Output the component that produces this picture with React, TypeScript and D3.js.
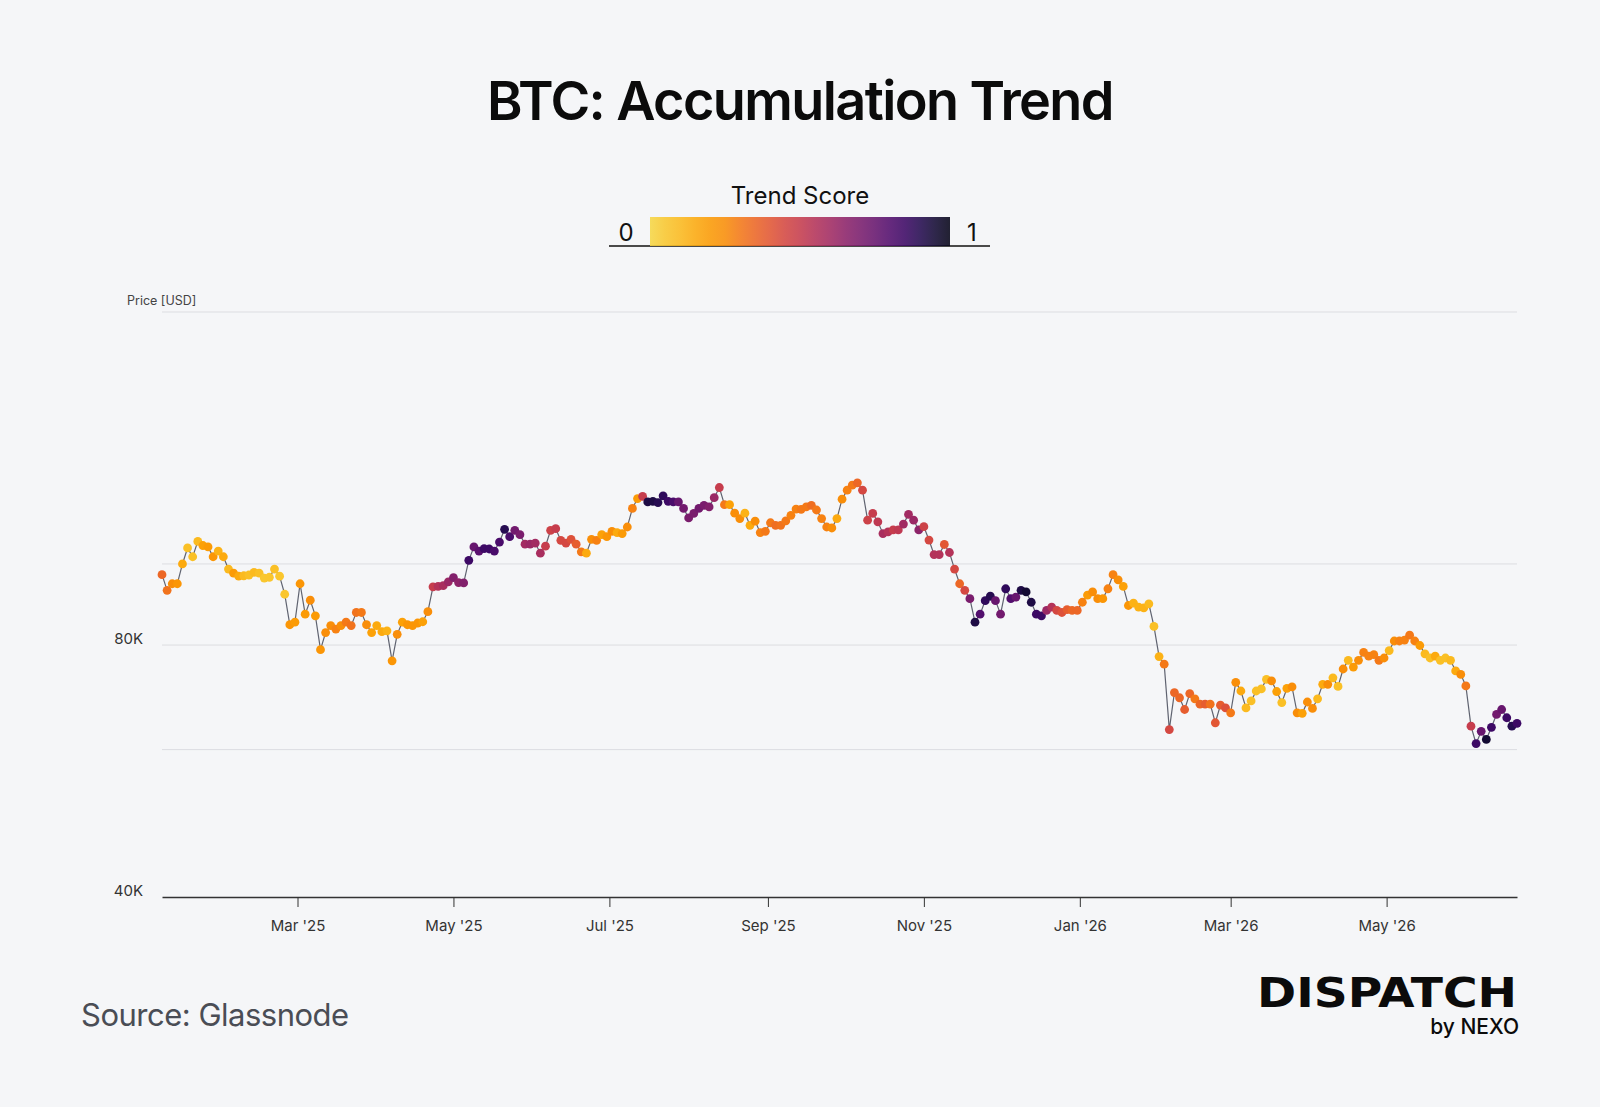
import React, { useEffect, useRef } from 'react';
import * as d3 from 'd3';

// BTC price (thousands USD), one reading every 2 days from startDate
const startDate = '2025-01-07';
const stepDays = 2;

const prices = [
  97.1, 93.0, 94.7, 94.7, 100.0, 104.5, 102.0, 106.4, 105.2, 104.8,
  102.0, 103.6, 102.0, 98.6, 97.5, 96.7, 96.8, 97.0, 97.7, 97.5,
  96.2, 96.4, 98.6, 96.7, 92.0, 84.6, 85.2, 94.7, 87.1, 90.5,
  86.7, 79.0, 82.8, 84.4, 83.6, 84.4, 85.2, 84.4, 87.5, 87.5,
  84.6, 82.8, 84.4, 83.0, 83.2, 76.6, 82.4, 85.2, 84.6, 84.4,
  85.0, 85.3, 87.7, 93.9, 94.0, 94.2, 95.2, 96.3, 95.0, 94.9,
  101.0, 104.8, 103.6, 104.3, 104.2, 103.6, 106.2, 110.0, 107.8, 109.7,
  108.4, 105.6, 105.6, 105.9, 103.0, 105.0, 109.7, 110.2, 106.7, 105.9,
  107.0, 105.6, 103.4, 103.0, 107.0, 106.7, 108.4, 107.8, 109.4, 109.0,
  108.7, 110.7, 116.5, 119.7, 120.4, 118.6, 118.8, 118.4, 120.6, 118.8,
  118.6, 118.6, 116.5, 113.5, 114.9, 116.5, 117.5, 117.0, 120.0, 123.4,
  117.7, 117.7, 115.0, 113.3, 115.0, 111.2, 112.5, 109.0, 109.4, 112.0,
  111.2, 111.2, 112.6, 114.3, 116.3, 116.2, 117.0, 117.5, 116.0, 113.3,
  110.7, 110.4, 113.3, 119.5, 122.5, 124.2, 125.0, 122.5, 112.8, 114.9,
  112.3, 108.7, 109.2, 109.8, 109.8, 111.6, 114.6, 112.8, 109.8, 110.8,
  106.8, 102.6, 102.6, 105.5, 103.2, 98.6, 94.7, 93.0, 90.9, 85.2,
  87.1, 90.4, 91.5, 90.4, 87.1, 93.4, 90.9, 91.3, 93.0, 92.6,
  90.0, 87.1, 86.7, 88.0, 88.8, 88.0, 87.5, 88.2, 88.0, 88.0,
  90.0, 91.8, 92.6, 90.9, 90.9, 93.4, 97.1, 95.7, 94.0, 89.2,
  89.8, 88.8, 88.6, 89.6, 84.2, 77.5, 75.9, 63.4, 70.2, 69.2,
  67.0, 70.0, 69.0, 68.0, 68.0, 68.0, 64.6, 67.8, 67.3, 66.4,
  72.2, 70.5, 67.3, 68.6, 70.5, 70.9, 72.8, 72.5, 70.4, 68.3,
  71.0, 71.3, 66.4, 66.3, 68.4, 67.2, 69.0, 71.8, 71.8, 73.1,
  71.4, 74.9, 76.7, 75.3, 76.7, 78.4, 77.6, 77.9, 76.7, 77.2,
  78.8, 80.9, 80.9, 81.1, 82.2, 80.9, 79.9, 78.1, 77.2, 77.6,
  76.7, 77.2, 76.7, 74.5, 73.8, 71.5, 64.0, 61.0, 63.1, 61.7,
  63.8, 66.1, 67.0, 65.5, 64.0, 64.5,
];

// Accumulation trend score (0..1) for the same readings
const scores = [
  0.35, 0.32, 0.25, 0.22, 0.15, 0.08, 0.08, 0.1, 0.18, 0.2,
  0.22, 0.12, 0.15, 0.1, 0.2, 0.15, 0.1, 0.08, 0.1, 0.08,
  0.05, 0.06, 0.08, 0.06, 0.06, 0.22, 0.2, 0.22, 0.2, 0.25,
  0.2, 0.22, 0.25, 0.25, 0.28, 0.25, 0.3, 0.32, 0.32, 0.3,
  0.25, 0.18, 0.15, 0.15, 0.12, 0.22, 0.25, 0.18, 0.22, 0.22,
  0.22, 0.18, 0.25, 0.5, 0.55, 0.58, 0.62, 0.68, 0.65, 0.68,
  0.85, 0.75, 0.78, 0.85, 0.85, 0.82, 0.82, 0.9, 0.82, 0.72,
  0.7, 0.6, 0.62, 0.6, 0.58, 0.5, 0.48, 0.5, 0.45, 0.45,
  0.42, 0.38, 0.3, 0.15, 0.25, 0.28, 0.18, 0.22, 0.25, 0.15,
  0.2, 0.25, 0.28, 0.2, 0.5, 0.92, 0.92, 0.9, 0.88, 0.85,
  0.82, 0.75, 0.72, 0.7, 0.7, 0.72, 0.7, 0.68, 0.62, 0.5,
  0.3, 0.18, 0.25, 0.25, 0.12, 0.15, 0.25, 0.28, 0.3, 0.3,
  0.33, 0.32, 0.3, 0.28, 0.28, 0.3, 0.3, 0.33, 0.3, 0.28,
  0.28, 0.25, 0.15, 0.25, 0.28, 0.3, 0.35, 0.45, 0.48, 0.5,
  0.52, 0.58, 0.55, 0.5, 0.52, 0.6, 0.6, 0.62, 0.65, 0.48,
  0.45, 0.55, 0.55, 0.4, 0.55, 0.45, 0.35, 0.45, 0.7, 0.92,
  0.8, 0.88, 0.9, 0.75, 0.72, 0.88, 0.8, 0.75, 0.92, 0.95,
  0.92, 0.85, 0.85, 0.62, 0.55, 0.45, 0.42, 0.38, 0.35, 0.35,
  0.28, 0.2, 0.25, 0.25, 0.22, 0.28, 0.28, 0.25, 0.18, 0.22,
  0.12, 0.12, 0.12, 0.1, 0.08, 0.12, 0.3, 0.45, 0.35, 0.35,
  0.38, 0.35, 0.3, 0.35, 0.38, 0.32, 0.4, 0.38, 0.42, 0.3,
  0.25, 0.15, 0.1, 0.08, 0.08, 0.08, 0.08, 0.25, 0.18, 0.08,
  0.18, 0.25, 0.25, 0.18, 0.25, 0.25, 0.1, 0.15, 0.25, 0.1,
  0.08, 0.25, 0.1, 0.2, 0.25, 0.28, 0.28, 0.28, 0.3, 0.25,
  0.1, 0.25, 0.28, 0.28, 0.3, 0.28, 0.2, 0.1, 0.08, 0.15,
  0.08, 0.08, 0.1, 0.15, 0.25, 0.3, 0.5, 0.85, 0.75, 0.95,
  0.85, 0.72, 0.75, 0.85, 0.9, 0.85,
];

const xTickDates = ['2025-03-01', '2025-05-01', '2025-07-01', '2025-09-01', '2025-11-01', '2026-01-01', '2026-03-01', '2026-05-01'];
const xTickLabels = ["Mar '25", "May '25", "Jul '25", "Sep '25", "Nov '25", "Jan '26", "Mar '26", "May '26"];
const yGridValues = [60000, 80000, 100000, 200000];
const yLabelValues = [40000, 80000];
const yLabelTexts = ['40K', '80K'];

const FONT = 'Inter, "Noto Sans", sans-serif';

const App: React.FC = () => {
  const chartRef = useRef<SVGSVGElement>(null);

  useEffect(() => {
    const svg = d3.select(chartRef.current!);
    svg.selectAll('*').remove();

    const width = 1600;
    const height = 1107;
    const plot = { left: 162, right: 1517, top: 312, bottom: 897 };

    // inverted inferno: yellow for 0, orange around 0.25, near-black for 1
    const infernoPos = d3.scaleLinear().domain([0, 0.25, 0.5, 0.75, 1]).range([0.9, 0.75, 0.53, 0.29, 0.04]);
    const color = (s: number) => d3.interpolateInferno(infernoPos(s));

    svg.append('rect').attr('width', width).attr('height', height).attr('fill', '#f5f6f8');

    // Title
    svg
      .append('text')
      .attr('x', 800)
      .attr('y', 120)
      .attr('text-anchor', 'middle')
      .style('font-family', FONT)
      .style('font-size', '54px')
      .style('font-weight', 600)
      .style('letter-spacing', '-1.6px')
      .attr('fill', '#0b0b0b')
      .text('BTC: Accumulation Trend');

    // Legend
    const defs = svg.append('defs');
    const grad = defs.append('linearGradient').attr('id', 'trendGrad');
    d3.range(0, 1.001, 0.05).forEach((t) => {
      grad.append('stop').attr('offset', `${t * 100}%`).attr('stop-color', color(t));
    });

    svg
      .append('text')
      .attr('x', 800)
      .attr('y', 204)
      .attr('text-anchor', 'middle')
      .style('font-family', FONT)
      .style('font-size', '24px')
      .attr('fill', '#111')
      .text('Trend Score');

    svg.append('line').attr('x1', 609).attr('x2', 990).attr('y1', 246).attr('y2', 246).attr('stroke', '#111').attr('stroke-width', 1.5);
    svg.append('rect').attr('x', 650).attr('y', 217).attr('width', 300).attr('height', 29).attr('fill', 'url(#trendGrad)').attr('opacity', 0.88);
    svg
      .append('text')
      .attr('x', 626)
      .attr('y', 241)
      .attr('text-anchor', 'middle')
      .style('font-family', FONT)
      .style('font-size', '24px')
      .attr('fill', '#111')
      .text('0');
    svg
      .append('text')
      .attr('x', 972)
      .attr('y', 241)
      .attr('text-anchor', 'middle')
      .style('font-family', FONT)
      .style('font-size', '24px')
      .attr('fill', '#111')
      .text('1');

    // Data
    const parse = d3.utcParse('%Y-%m-%d');
    const start = parse(startDate)!;
    const data = prices.map((p, i) => ({
      date: d3.utcDay.offset(start, i * stepDays),
      price: p * 1000,
      score: scores[i],
    }));

    const x = d3
      .scaleUtc()
      .domain(d3.extent(data, (d) => d.date) as [Date, Date])
      .range([plot.left, plot.right]);
    const y = d3.scaleLog().domain([40000, 200000]).range([plot.bottom, plot.top]);

    // Gridlines
    svg
      .append('g')
      .selectAll('line')
      .data(yGridValues)
      .enter()
      .append('line')
      .attr('x1', plot.left)
      .attr('x2', plot.right)
      .attr('y1', (d) => y(d))
      .attr('y2', (d) => y(d))
      .attr('stroke', '#dcdde1')
      .attr('stroke-width', 1);

    svg
      .append('text')
      .attr('x', 127)
      .attr('y', 305)
      .style('font-family', FONT)
      .style('font-size', '12.5px')
      .attr('fill', '#444')
      .text('Price [USD]');

    svg
      .append('g')
      .selectAll('text')
      .data(yLabelValues)
      .enter()
      .append('text')
      .attr('x', 143)
      .attr('y', (d) => y(d) - 1)
      .attr('text-anchor', 'end')
      .style('font-family', FONT)
      .style('font-size', '15px')
      .attr('fill', '#333')
      .text((d, i) => yLabelTexts[i]);

    // X axis
    const xTicks = xTickDates.map((s) => parse(s)!);
    const xAxis = svg
      .append('g')
      .attr('transform', `translate(0,${plot.bottom})`)
      .call(
        d3
          .axisBottom(x)
          .tickValues(xTicks)
          .tickSize(10)
          .tickSizeOuter(0)
          .tickPadding(13)
          .tickFormat((d, i) => xTickLabels[i])
      );
    xAxis.select('.domain').attr('stroke', '#333').attr('stroke-width', 1.3);
    xAxis.selectAll('.tick line').attr('stroke', '#333');
    xAxis
      .selectAll('.tick text')
      .style('font-family', FONT)
      .style('font-size', '15px')
      .attr('fill', '#333');

    // Price line and coloured dots
    const line = d3
      .line<{ date: Date; price: number }>()
      .x((d) => x(d.date))
      .y((d) => y(d.price));
    svg
      .append('path')
      .datum(data)
      .attr('d', line)
      .attr('fill', 'none')
      .attr('stroke', '#5f6370')
      .attr('stroke-width', 1.2);

    svg
      .append('g')
      .selectAll('circle')
      .data(data)
      .enter()
      .append('circle')
      .attr('cx', (d) => x(d.date))
      .attr('cy', (d) => y(d.price))
      .attr('r', 4.4)
      .attr('fill', (d) => color(d.score));

    // Footer
    svg
      .append('text')
      .attr('x', 81)
      .attr('y', 1026)
      .style('font-family', FONT)
      .style('font-size', '31px')
      .style('letter-spacing', '-0.5px')
      .attr('fill', '#4a4d55')
      .text('Source: Glassnode');

    svg
      .append('text')
      .attr('x', 1517)
      .attr('y', 1007)
      .attr('text-anchor', 'end')
      .style('font-family', '"DejaVu Sans", sans-serif')
      .style('font-size', '40px')
      .style('font-weight', 700)
      .attr('textLength', 260)
      .attr('lengthAdjust', 'spacingAndGlyphs')
      .attr('fill', '#0b0b0b')
      .text('DISPATCH');

    svg
      .append('text')
      .attr('x', 1519)
      .attr('y', 1034)
      .attr('text-anchor', 'end')
      .style('font-family', FONT)
      .style('font-size', '21px')
      .style('font-weight', 500)
      .attr('fill', '#0b0b0b')
      .text('by NEXO');
  }, []);

  return (
    <svg
      ref={chartRef}
      width={1600}
      height={1107}
      style={{ position: 'absolute', left: 0, top: 0, display: 'block' }}
    />
  );
};

export default App;
